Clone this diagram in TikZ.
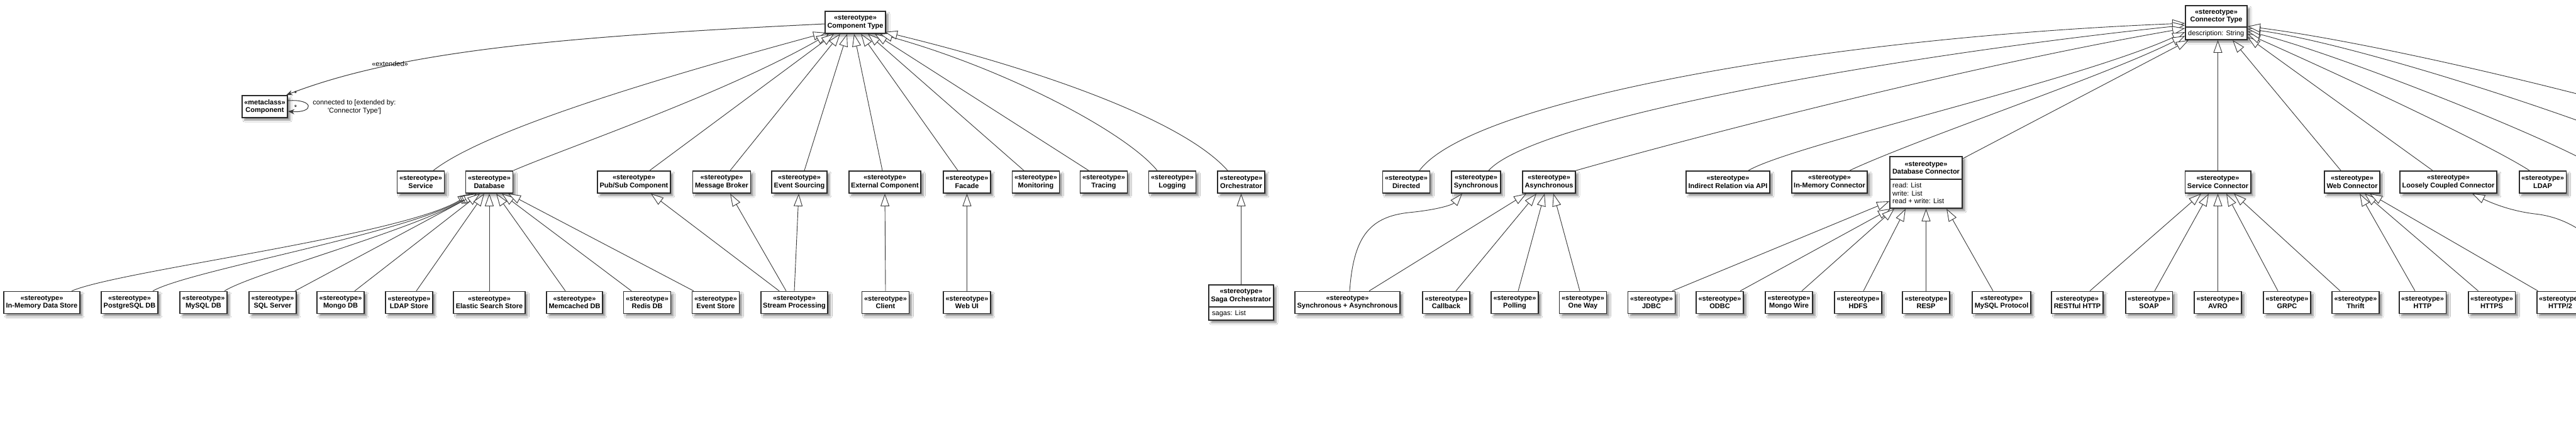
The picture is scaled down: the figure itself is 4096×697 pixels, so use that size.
\documentclass[tikz,border=0pt]{standalone}
\usepackage{fontspec}
\setmainfont{Liberation Sans}
\usetikzlibrary{arrows.meta,shadows.blur}
\definecolor{boxc}{HTML}{2A2A2A}
\definecolor{linec}{HTML}{383838}
\tikzset{
  shad/.style={blur shadow={shadow xshift=4pt,shadow yshift=-4pt,shadow blur radius=3pt,shadow blur steps=6,shadow opacity=45}},
  stbox/.style={draw=boxc, line width=1.8pt, fill=white, shad,
    font=\fontsize{11}{12.5}\selectfont\bfseries, align=center,
    inner xsep=3.5pt, inner ysep=1pt, minimum height=35pt},
  mbox/.style={draw=boxc, line width=1.8pt, fill=white, shad, inner sep=0pt},
  txt/.style={font=\fontsize{11}{12.5}\selectfont, inner sep=0pt, align=center},
  btxt/.style={font=\fontsize{11}{12.5}\selectfont\bfseries, inner sep=0pt, align=center},
  gen/.style={draw=linec, line width=0.9pt,
    -{Triangle[length=20pt,width=14pt,fill=white,line width=0.9pt]}},
  assoc/.style={draw=linec, line width=1pt, -{Stealth[length=10pt,width=8pt]}},
  divline/.style={draw=boxc, line width=1.8pt},
}
\begin{document}
\begin{tikzpicture}[x=1pt,y=-1pt]
\useasboundingbox (0,0) rectangle (4096,697);
\fill[white] (0,0) rectangle (4096,697);
\begin{scope}
\clip (0,0) rectangle (4096,697);

% ---------- top ----------
\node[stbox] (comptype) at (1360,35.5) {«stereotype»\\Component Type};
\node[stbox] (component) at (421,169.5) {«metaclass»\\Component};

\node[mbox, minimum width=98pt, minimum height=54pt] (ctype) at (3524,36) {};
\coordinate (ctdiv) at (3524,43);
\draw[divline] (ctype.west |- ctdiv) -- (ctype.east |- ctdiv);
\node[btxt] (ctypeT) at (3524,26) {«stereotype»\\Connector Type};
\node[txt, anchor=west] (ctypeA) at (3479,53.5) {description: String};

% ---------- row B ----------
\node[stbox] (service) at (669,289.5) {«stereotype»\\Service};
\node[stbox] (database) at (778,289.5) {«stereotype»\\Database};
\node[stbox] (pubsub) at (1008,289.5) {«stereotype»\\Pub/Sub Component};
\node[stbox] (broker) at (1147.5,289.5) {«stereotype»\\Message Broker};
\node[stbox] (evsrc) at (1271,289.5) {«stereotype»\\Event Sourcing};
\node[stbox] (extcomp) at (1407,289.5) {«stereotype»\\External Component};
\node[stbox] (facade) at (1537.5,289.5) {«stereotype»\\Facade};
\node[stbox] (monitoring) at (1647,289.5) {«stereotype»\\Monitoring};
\node[stbox] (tracing) at (1755,289.5) {«stereotype»\\Tracing};
\node[stbox] (logging) at (1864,289.5) {«stereotype»\\Logging};
\node[stbox] (orch) at (1973.5,289.5) {«stereotype»\\Orchestrator};
\node[stbox] (directed) at (2236,289.5) {«stereotype»\\Directed};
\node[stbox] (sync) at (2347,289.5) {«stereotype»\\Synchronous};
\node[stbox] (async) at (2463,289.5) {«stereotype»\\Asynchronous};
\node[stbox] (indirect) at (2747.5,289.5) {«stereotype»\\Indirect Relation via API};
\node[stbox] (inmemconn) at (2909,289.5) {«stereotype»\\In-Memory Connector};

\node[mbox, minimum width=115pt, minimum height=82pt] (dbconn) at (3062.5,290) {};
\coordinate (dbdiv) at (3062.5,285);
\draw[divline] (dbconn.west |- dbdiv) -- (dbconn.east |- dbdiv);
\node[btxt] (dbconnT) at (3062.5,267) {«stereotype»\\Database Connector};
\node[txt, anchor=west, align=left] (dbconnA) at (3009,307.5) {read: List\\write: List\\read + write: List};

\node[stbox] (svcconn) at (3526.5,289.5) {«stereotype»\\Service Connector};
\node[stbox] (webconn) at (3740,289.5) {«stereotype»\\Web Connector};
\node[stbox] (loose) at (3893,289.5) {«stereotype»\\Loosely Coupled Connector};
\node[stbox] (ldap) at (4043,289.5) {«stereotype»\\LDAP};

% ---------- row C ----------
\node[stbox] (inmemds) at (66.5,481) {«stereotype»\\In-Memory Data Store};
\node[stbox] (postgres) at (206,481) {«stereotype»\\PostgreSQL DB};
\node[stbox] (mysql) at (323.5,481) {«stereotype»\\MySQL DB};
\node[stbox] (sqlserver) at (433.5,481) {«stereotype»\\SQL Server};
\node[stbox] (mongo) at (541.5,481) {«stereotype»\\Mongo DB};
\node[stbox] (ldapstore) at (650.5,481) {«stereotype»\\LDAP Store};
\node[stbox] (elastic) at (778,481) {«stereotype»\\Elastic Search Store};
\node[stbox] (memcached) at (913.5,481) {«stereotype»\\Memcached DB};
\node[stbox] (redis) at (1029,481) {«stereotype»\\Redis DB};
\node[stbox] (evstore) at (1138,481) {«stereotype»\\Event Store};
\node[stbox] (stream) at (1263,481) {«stereotype»\\Stream Processing};
\node[stbox] (client) at (1408,481) {«stereotype»\\Client};
\node[stbox] (webui) at (1537.5,481) {«stereotype»\\Web UI};

\node[mbox, minimum width=103pt, minimum height=56pt] (saga) at (1973.5,481) {};
\coordinate (sagadiv) at (1973.5,488);
\draw[divline] (saga.west |- sagadiv) -- (saga.east |- sagadiv);
\node[btxt] (sagaT) at (1973.5,470.5) {«stereotype»\\Saga Orchestrator};
\node[txt, anchor=west] (sagaA) at (1927,499) {sagas: List};

\node[stbox] (syncasync) at (2142.5,481) {«stereotype»\\Synchronous + Asynchronous};
\node[stbox] (callback) at (2299.5,481) {«stereotype»\\Callback};
\node[stbox] (polling) at (2408.5,481) {«stereotype»\\Polling};
\node[stbox] (oneway) at (2517,481) {«stereotype»\\One Way};
\node[stbox] (jdbc) at (2626,481) {«stereotype»\\JDBC};
\node[stbox] (odbc) at (2734.5,481) {«stereotype»\\ODBC};
\node[stbox] (mongowire) at (2844.5,481) {«stereotype»\\Mongo Wire};
\node[stbox] (hdfs) at (2954.5,481) {«stereotype»\\HDFS};
\node[stbox] (resp) at (3062.5,481) {«stereotype»\\RESP};
\node[stbox] (mysqlp) at (3182.5,481) {«stereotype»\\MySQL Protocol};
\node[stbox] (restful) at (3303,481) {«stereotype»\\RESTful HTTP};
\node[stbox] (soap) at (3417,481) {«stereotype»\\SOAP};
\node[stbox] (avro) at (3526.5,481) {«stereotype»\\AVRO};
\node[stbox] (grpc) at (3636.5,481) {«stereotype»\\GRPC};
\node[stbox] (thrift) at (3745.5,481) {«stereotype»\\Thrift};
\node[stbox] (http) at (3852,481) {«stereotype»\\HTTP};
\node[stbox] (https) at (3962,481) {«stereotype»\\HTTPS};
\node[stbox] (http2) at (4071,481) {«stereotype»\\HTTP/2};

% off-picture ends
\coordinate (ext1) at (4500,272);
\coordinate (ext2) at (4300,272);
\coordinate (ext3) at (4140,272);
\coordinate (ext4) at (4180,463);

% ---------- Component Type generalizations ----------
\draw[gen] ([xshift=20pt]service.north) .. controls (780,200) and (1100,110) .. ([xshift=2pt,yshift=2pt]comptype.south west);
\draw[gen] (database.north east) .. controls (900,235) and (1150,150) .. ([xshift=-42pt]comptype.south);
\draw[gen] ([xshift=25pt]pubsub.north) -- ([xshift=-34pt]comptype.south);
\draw[gen] ([xshift=13.5pt]broker.north) -- ([xshift=-24pt]comptype.south);
\draw[gen] ([xshift=8pt]evsrc.north) -- ([xshift=-13pt]comptype.south);
\draw[gen] ([xshift=-4pt]extcomp.north) -- ([xshift=-2pt]comptype.south);
\draw[gen] ([xshift=-14.5pt]facade.north) -- ([xshift=9pt]comptype.south);
\draw[gen] ([xshift=-19pt]monitoring.north) -- ([xshift=20pt]comptype.south);
\draw[gen] ([xshift=-24pt]tracing.north) -- ([xshift=31pt]comptype.south);
\draw[gen] ([xshift=-24pt]logging.north) .. controls (1790,210) and (1600,110) .. ([xshift=39pt]comptype.south);
\draw[gen] ([xshift=-21.5pt]orch.north) .. controls (1880,190) and (1650,110) .. ([xshift=-2pt,yshift=3pt]comptype.south east);

% ---------- Component associations ----------
\draw[assoc] ([yshift=-2.5pt]comptype.west) .. controls (900,58) and (640,80) .. ([xshift=-3pt]component.north east);
\node[txt] (extlbl) at (620,102) {«extended»};
\node[txt] (mult1) at (470,149) {*};
\draw[assoc] ([yshift=9.5pt]component.east) .. controls (500,157) and (500,180) .. ([yshift=-7.5pt]component.east);
\node[txt] (mult2) at (470,171) {*};
\node[txt] (looplbl) at (563.5,170) {connected to [extended by:\\\textquotesingle Connector Type\textquotesingle]};

% ---------- Database ----------
\draw[gen] ([xshift=47.5pt]inmemds.north) .. controls (190,430) and (640,375) .. ([xshift=-30pt]database.south);
\draw[gen] ([xshift=37pt]postgres.north) .. controls (300,430) and (650,370) .. ([xshift=-27pt]database.south);
\draw[gen] ([xshift=33.5pt]mysql.north) .. controls (400,435) and (660,365) .. ([xshift=-24pt]database.south);
\draw[gen] ([xshift=35.5pt]sqlserver.north) -- ([xshift=-20pt]database.south);
\draw[gen] ([xshift=22.5pt]mongo.north) -- ([xshift=-15pt]database.south);
\draw[gen] ([xshift=11.5pt]ldapstore.north) -- ([xshift=-8pt]database.south);
\draw[gen] (elastic.north) -- (database.south);
\draw[gen] ([xshift=-14.5pt]memcached.north) -- ([xshift=11pt]database.south);
\draw[gen] ([xshift=-25pt]redis.north) -- ([xshift=20pt]database.south);
\draw[gen] ([xshift=-35pt]evstore.north) -- ([xshift=30pt]database.south);

% ---------- Stream processing etc. ----------
\draw[gen] ([xshift=-24pt]stream.north) -- ([xshift=27pt]pubsub.south);
\draw[gen] ([xshift=-13pt]stream.north) -- ([xshift=13.5pt]broker.south);
\draw[gen] (stream.north) -- ([xshift=-1pt]evsrc.south);
\draw[gen] (client.north) -- (extcomp.south);
\draw[gen] (webui.north) -- (facade.south);
\draw[gen] (saga.north) -- (orch.south);

% ---------- Connector Type, left ----------
\draw[gen] ([xshift=21pt]directed.north) .. controls (2340,160) and (2900,60) .. ([yshift=-1pt]ctype.west);
\draw[gen] ([xshift=20pt]sync.north) .. controls (2440,190) and (3000,90) .. ([yshift=-4pt]ctype.west);
\draw[gen] (async.north east) .. controls (2650,230) and (3100,110) .. ([yshift=-9pt]ctype.west);
\draw[gen] ([xshift=32.5pt]indirect.north) .. controls (2850,230) and (3300,130) .. ([yshift=-15pt]ctype.west);
\draw[gen] ([xshift=32pt]inmemconn.north) .. controls (3050,220) and (3350,120) .. ([yshift=-21pt]ctype.west);
\draw[gen] ([yshift=-4pt]dbconn.north east) -- ([xshift=6pt]ctype.south west);

% ---------- Connector Type, right ----------
\draw[gen] (svcconn.north) -- (svcconn.north |- ctype.south);
\draw[gen] ([xshift=-18pt]webconn.north) -- ([xshift=26pt]ctype.south);
\draw[gen] ([xshift=-25pt]loose.north) -- ([yshift=-23pt]ctype.east);
\draw[gen] ([xshift=-21pt]ldap.north) .. controls (3950,225) and (3700,110) .. ([yshift=-18pt]ctype.east);
\draw[gen] (ext3) .. controls (4060,220) and (3700,80) .. ([yshift=-14pt]ctype.east);
\draw[gen] (ext2) .. controls (4150,200) and (3750,70) .. ([yshift=-10pt]ctype.east);
\draw[gen] (ext1) .. controls (4300,190) and (3800,70) .. ([yshift=-6pt]ctype.east);

% ---------- Synchronous / Asynchronous ----------
\draw[gen] ([xshift=3.5pt]syncasync.north) .. controls (2152,380) and (2175,345) .. (2240,338) .. controls (2290,333) and (2310,325) .. ([xshift=-22pt]sync.south);
\draw[gen] ([xshift=34.5pt]syncasync.north) -- ([xshift=-36pt]async.south);
\draw[gen] ([xshift=15.5pt]callback.north) -- ([xshift=-20pt]async.south);
\draw[gen] ([xshift=5.5pt]polling.north) -- ([xshift=-7pt]async.south);
\draw[gen] ([xshift=-5pt]oneway.north) -- ([xshift=7pt]async.south);

% ---------- Database Connector ----------
\draw[gen] ([xshift=33pt]jdbc.north) -- ([yshift=-30pt]dbconn.west);
\draw[gen] ([xshift=32.5pt]odbc.north) -- ([xshift=2pt]dbconn.south west);
\draw[gen] ([xshift=20.5pt]mongowire.north) -- ([xshift=-50.5pt]dbconn.south);
\draw[gen] ([xshift=8.5pt]hdfs.north) -- ([xshift=-32.5pt]dbconn.south);
\draw[gen] (resp.north) -- (dbconn.south);
\draw[gen] ([xshift=-13.5pt]mysqlp.north) -- ([xshift=32.5pt]dbconn.south);

% ---------- Service Connector ----------
\draw[gen] ([xshift=20pt]restful.north) -- ([xshift=-26.5pt]svcconn.south);
\draw[gen] ([xshift=9pt]soap.north) -- ([xshift=-14.5pt]svcconn.south);
\draw[gen] (avro.north) -- (svcconn.south);
\draw[gen] ([xshift=-14.5pt]grpc.north) -- ([xshift=13.5pt]svcconn.south);
\draw[gen] ([xshift=-24.5pt]thrift.north) -- ([xshift=25.5pt]svcconn.south);

% ---------- Web Connector ----------
\draw[gen] ([xshift=-12pt]http.north) -- ([xshift=12pt]webconn.south);
\draw[gen] ([xshift=-21.5pt]https.north) -- ([xshift=20pt]webconn.south);
\draw[gen] ([xshift=-35.5pt]http2.north) -- ([xshift=28pt]webconn.south);

% ---------- Loosely Coupled child ----------
\draw[gen] (ext4) .. controls (4140,375) and (4080,345) .. (4030,340) .. controls (3990,335) and (3960,322) .. ([xshift=38pt]loose.south);

\end{scope}
\end{tikzpicture}
\end{document}
